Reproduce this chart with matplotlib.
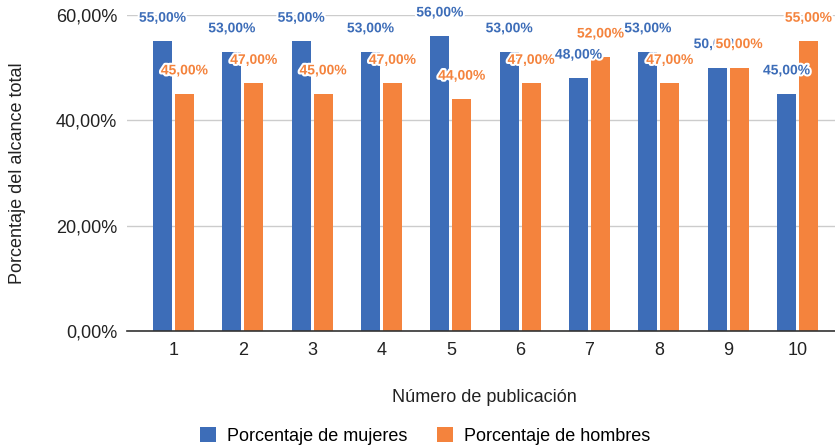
import matplotlib
matplotlib.use("Agg")
import matplotlib.pyplot as plt
import matplotlib.patheffects as pe
import numpy as np

publicaciones = ["1", "2", "3", "4", "5", "6", "7", "8", "9", "10"]
mujeres = [55, 53, 55, 53, 56, 53, 48, 53, 50, 45]
hombres = [45, 47, 45, 47, 44, 47, 52, 47, 50, 55]
y_ticks = [0, 20, 40, 60]

blue = "#3d6db8"
orange = "#f4833d"
txt = "#222222"

plt.rcParams['font.family'] = ['Liberation Sans', 'DejaVu Sans']

fig = plt.figure(figsize=(8.35, 4.48), dpi=100)
ax = fig.add_axes([127/835, 1-331/448, 1-127/835, (331-15)/448])

x = np.arange(1, len(publicaciones)+1)
w = 0.274
off = 0.158
b1 = ax.bar(x - off, mujeres, w, color=blue, label="Porcentaje de mujeres", zorder=3)
b2 = ax.bar(x + off, hombres, w, color=orange, label="Porcentaje de hombres", zorder=3)

def fmt(v):
    return f"{v:.2f}".replace(".", ",") + "%"

halo = [pe.withStroke(linewidth=3, foreground="white")]
for xi, v in zip(x - off, mujeres):
    ax.annotate(fmt(v), (xi, v), xytext=(0, 17), textcoords="offset points",
                ha="center", va="center", color=blue, fontsize=10, fontweight="bold",
                path_effects=halo, zorder=5, annotation_clip=False)
for xi, v in zip(x + off, hombres):
    ax.annotate(fmt(v), (xi, v), xytext=(0, 17), textcoords="offset points",
                ha="center", va="center", color=orange, fontsize=10, fontweight="bold",
                path_effects=halo, zorder=6, annotation_clip=False)

ax.set_xlim(0.329, 10.54)
ax.set_ylim(0, 60)
ax.set_yticks(y_ticks)
ax.set_yticklabels([fmt(v) for v in y_ticks], fontsize=13, color=txt)
ax.set_xticks(x)
ax.set_xticklabels(publicaciones, fontsize=13, color=txt)
ax.tick_params(length=0)
ax.tick_params(axis="y", pad=7)
ax.tick_params(axis="x", pad=8)
ax.grid(axis="y", color="#cccccc", linewidth=1, zorder=0)
for s in ["top", "right", "left"]:
    ax.spines[s].set_visible(False)
ax.spines["bottom"].set_color("#333333")
ax.spines["bottom"].set_linewidth(1.2)
ax.spines["bottom"].set_zorder(4)

ax.set_xlabel("Número de publicación", fontsize=13, color=txt, va="center")
ax.xaxis.set_label_coords((484-127)/708, (331-397)/316)
ax.set_ylabel("Porcentaje del alcance total", fontsize=13, color=txt, va="center")
ax.yaxis.set_label_coords((18-127)/708, 0.5)

fig.legend(handles=[b1, b2], loc="center", bbox_to_anchor=(425/835, 1-436/448),
           ncol=2, frameon=False, fontsize=13, handlelength=0.9, handleheight=0.9,
           columnspacing=1.6, handletextpad=0.6)

fig.savefig("out.png", dpi=100)
